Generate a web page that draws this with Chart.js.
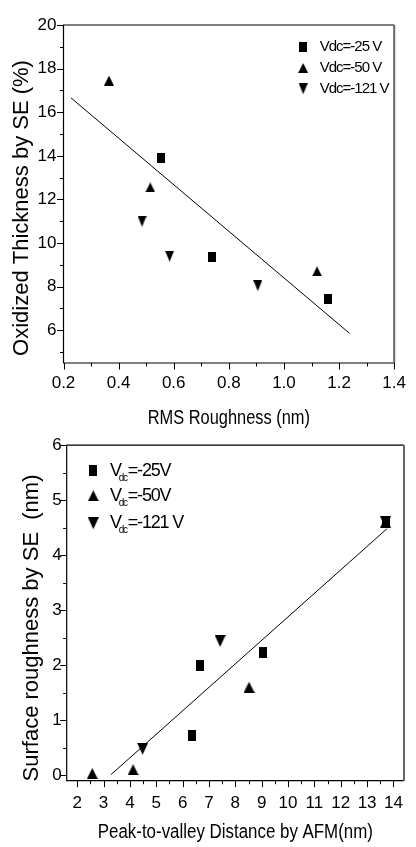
<!DOCTYPE html>
<html>
<head>
<meta charset="utf-8">
<script src="https://cdn.jsdelivr.net/npm/chart.js@4.4.1/dist/chart.umd.min.js"></script>
<style>
  body { margin: 0; background: #fff; }
  canvas { display: block; }
</style>
</head>
<body>
<canvas id="oxide" width="416" height="430"></canvas>
<canvas id="rough" width="416" height="417"></canvas>
<script>
// top panel: oxidized thickness vs RMS roughness
var rmsX25 = [0.555, 0.74, 1.16];
var oxY25 = [13.9, 9.35, 7.42];
var rmsX50 = [0.365, 0.515, 1.12];
var oxY50 = [17.45, 12.55, 8.7];
var rmsX121 = [0.485, 0.585, 0.905];
var oxY121 = [11.0, 9.4, 8.05];
var rmsFitX = [0.227, 1.238];
var oxFitY = [16.66, 5.86];
var rmsTicks = [0.2, 0.4, 0.6, 0.8, 1.0, 1.2, 1.4];
var rmsMinor = [0.3, 0.5, 0.7, 0.9, 1.1, 1.3];
var oxTicks = [6, 8, 10, 12, 14, 16, 18, 20];
var oxMinor = [5, 7, 9, 11, 13, 15, 17, 19];

// bottom panel: SE roughness vs AFM peak-to-valley
var pvX25 = [6.35, 6.65, 9.05, 13.7];
var srY25 = [0.72, 2.0, 2.23, 4.6];
var pvX50 = [2.57, 4.12, 8.52, 13.7];
var srY50 = [0.03, 0.1, 1.6, 4.6];
var pvX121 = [4.48, 7.42, 13.7];
var srY121 = [0.48, 2.44, 4.6];
var pvFitX = [3.28, 13.75];
var srFitY = [0.01, 4.48];
var pvTicks = [2, 3, 4, 5, 6, 7, 8, 9, 10, 11, 12, 13, 14];
var pvMinor = [2.5, 3.5, 4.5, 5.5, 6.5, 7.5, 8.5, 9.5, 10.5, 11.5, 12.5, 13.5];
var srTicks = [0, 1, 2, 3, 4, 5, 6];
var srMinor = [0.5, 1.5, 2.5, 3.5, 4.5, 5.5];

var SANS = '"Liberation Sans", Arial, sans-serif';

function pts(xs, ys) {
  return xs.map(function (x, i) { return { x: x, y: ys[i] }; });
}

// small filled marker shapes (squares in the original are a bit taller than wide)
function mark(kind, w, h) {
  var c = document.createElement('canvas');
  c.width = w; c.height = h;
  var g = c.getContext('2d');
  g.fillStyle = '#000';
  g.beginPath();
  if (kind === 'square') g.rect(0, 0, w, h);
  else if (kind === 'up') { g.moveTo(w / 2, 0); g.lineTo(w, h); g.lineTo(0, h); }
  else { g.moveTo(0, 0); g.lineTo(w, 0); g.lineTo(w / 2, h); }
  g.closePath();
  g.fill();
  return c;
}

// frame + outward major/minor ticks on left and bottom
function axisBox(xMajor, xMinor, yMajor, yMinor) {
  return {
    id: 'axisBox',
    afterDraw: function (chart) {
      var ctx = chart.ctx, a = chart.chartArea;
      var sx = chart.scales.x, sy = chart.scales.y;
      ctx.save();
      ctx.lineWidth = 1.2;
      ctx.strokeStyle = '#000';
      ctx.beginPath();
      ctx.moveTo(a.right, a.top); ctx.lineTo(a.left, a.top);
      ctx.lineTo(a.left, a.bottom); ctx.lineTo(a.right, a.bottom);
      ctx.stroke();
      ctx.strokeStyle = '#666';
      ctx.lineWidth = 2;
      ctx.beginPath();
      ctx.moveTo(a.right, a.top); ctx.lineTo(a.right, a.bottom);
      ctx.stroke();
      ctx.strokeStyle = '#000';
      ctx.lineWidth = 1;
      ctx.beginPath();
      xMajor.forEach(function (v) {
        var p = Math.round(sx.getPixelForValue(v)) + 0.5;
        ctx.moveTo(p, a.bottom); ctx.lineTo(p, a.bottom + 6.5);
      });
      xMinor.forEach(function (v) {
        var p = Math.round(sx.getPixelForValue(v)) + 0.5;
        ctx.moveTo(p, a.bottom); ctx.lineTo(p, a.bottom + 3.5);
      });
      yMajor.forEach(function (v) {
        var p = Math.round(sy.getPixelForValue(v)) + 0.5;
        ctx.moveTo(a.left, p); ctx.lineTo(a.left - 6.5, p);
      });
      yMinor.forEach(function (v) {
        var p = Math.round(sy.getPixelForValue(v)) + 0.5;
        ctx.moveTo(a.left, p); ctx.lineTo(a.left - 3.5, p);
      });
      ctx.stroke();
      ctx.restore();
    }
  };
}

// axis titles in the original use a narrow face; squeeze x titles, nudge y titles
function titleTweak(cfg) {
  return {
    id: 'titleTweak',
    afterUpdate: function (chart) {
      ['x', 'y'].forEach(function (k) {
        var s = chart.scales[k], t = cfg[k];
        if (!s || s._tweaked) return;
        var orig = s.drawTitle;
        s.drawTitle = function () {
          var ctx = this.ctx;
          var cx = (this.left + this.right) / 2;
          ctx.save();
          ctx.translate(cx, t.dy);
          ctx.scale(t.squeeze, 1);
          ctx.translate(-cx, 0);
          orig.apply(this, arguments);
          ctx.restore();
        };
        s._tweaked = true;
      });
    }
  };
}

// legend inside the plot, with optional subscript
function markLegend(items, o) {
  return {
    id: 'markLegend',
    afterDraw: function (chart) {
      var ctx = chart.ctx, a = chart.chartArea;
      ctx.save();
      ctx.fillStyle = '#000';
      ctx.textBaseline = 'middle';
      ctx.textAlign = 'left';
      ctx.letterSpacing = o.spacing + 'px';
      items.forEach(function (it, i) {
        var y = a.top + o.rows[i];
        var mx = o.side === 'right' ? a.right - o.markDx : a.left + o.markDx;
        var tx = o.side === 'right' ? a.right - o.textDx : a.left + o.textDx;
        ctx.drawImage(it.mark, mx - it.mark.width / 2, y - it.mark.height / 2);
        ctx.font = o.size + 'px ' + SANS;
        ctx.fillText(it.main, tx, y);
        if (it.sub) {
          var w = ctx.measureText(it.main).width * 0.8;
          ctx.font = o.subSize + 'px ' + SANS;
          ctx.fillText(it.sub, tx + w, y + o.subDy);
          var sw = ctx.measureText(it.sub).width;
          ctx.font = o.size + 'px ' + SANS;
          ctx.fillText(it.rest, tx + w + sw + 1, y);
        }
      });
      ctx.restore();
    }
  };
}

function panel(id, p) {
  return new Chart(document.getElementById(id), {
    type: 'scatter',
    data: {
      datasets: [
        { label: p.labels[0], data: pts(p.x[0], p.y[0]), pointStyle: p.marks[0], pointRadius: 5, order: 0 },
        { label: p.labels[1], data: pts(p.x[1], p.y[1]), pointStyle: p.marks[1], pointRadius: 5, order: 0 },
        { label: p.labels[2], data: pts(p.x[2], p.y[2]), pointStyle: p.marks[2], pointRadius: 5, order: 0 },
        { label: 'fit', data: pts(p.fitX, p.fitY), showLine: true, borderColor: '#000',
          borderWidth: 1, pointRadius: 0, order: 1 }
      ]
    },
    options: {
      responsive: false,
      animation: false,
      events: [],
      layout: { padding: p.pad },
      plugins: { legend: { display: false }, tooltip: { enabled: false } },
      scales: {
        x: {
          type: 'linear', min: p.xMin, max: p.xMax,
          grid: { display: false, drawTicks: false },
          border: { display: false },
          afterBuildTicks: function (s) { s.ticks = p.xTicks.map(function (v) { return { value: v }; }); },
          afterFit: function (s) { s.height = p.xHeight; },
          ticks: { font: { family: SANS, size: p.tickSize }, color: '#000', padding: p.xPad,
            maxRotation: 0, autoSkip: false, callback: p.xFmt },
          title: { display: true, text: p.xTitle, color: '#000', font: { family: SANS, size: 20 },
            padding: { top: 0, bottom: p.xTitlePad } }
        },
        y: {
          type: 'linear', min: p.yMin, max: p.yMax,
          grid: { display: false, drawTicks: false },
          border: { display: false },
          afterBuildTicks: function (s) { s.ticks = p.yTicks.map(function (v) { return { value: v }; }); },
          afterFit: function (s) { s.width = p.yWidth; },
          ticks: { font: { family: SANS, size: p.tickSize }, color: '#000', padding: p.yPad,
            autoSkip: false, callback: function (v) { return String(v); } },
          title: { display: true, text: p.yTitle, color: '#000', font: { family: SANS, size: 22 },
            padding: { top: p.yTitlePad, bottom: 0 } }
        }
      }
    },
    plugins: [titleTweak(p.titles), axisBox(p.xTicks, p.xMinor, p.yTicks, p.yMinor),
      markLegend(p.legend, p.legendPos)]
  });
}

var topSq = mark('square', 8, 10), topUp = mark('up', 10, 10), topDn = mark('down', 9, 11);
var botSq = mark('square', 8, 11), botUp = mark('up', 11, 11), botDn = mark('down', 11, 12);

panel('oxide', {
  labels: ['Vdc=-25 V', 'Vdc=-50 V', 'Vdc=-121 V'],
  marks: [topSq, topUp, topDn],
  x: [rmsX25, rmsX50, rmsX121], y: [oxY25, oxY50, oxY121],
  fitX: rmsFitX, fitY: oxFitY,
  xMin: 0.2, xMax: 1.4, xTicks: rmsTicks, xMinor: rmsMinor,
  xFmt: function (v) { return v.toFixed(1); },
  yMin: 4.5, yMax: 20, yTicks: oxTicks, yMinor: oxMinor,
  xTitle: 'RMS Roughness (nm)', yTitle: 'Oxidized Thickness by SE (%)',
  pad: { top: 25, right: 15, left: 0, bottom: 0 },
  tickSize: 17,
  xHeight: 67, yWidth: 63.5, xPad: 10, yPad: 7, xTitlePad: 0, yTitlePad: 9,
  titles: { x: { squeeze: 0.82, dy: 0 }, y: { squeeze: 1, dy: 14 } },
  legend: [
    { mark: topSq, main: 'Vdc=-25 V' },
    { mark: topUp, main: 'Vdc=-50 V' },
    { mark: topDn, main: 'Vdc=-121 V' }
  ],
  legendPos: { side: 'right', markDx: 91, textDx: 74.5, rows: [21.7, 43, 63.7], size: 15, spacing: -1 }
});

panel('rough', {
  labels: ['Vdc=-25V', 'Vdc=-50V', 'Vdc=-121 V'],
  marks: [botSq, botUp, botDn],
  x: [pvX25, pvX50, pvX121], y: [srY25, srY50, srY121],
  fitX: pvFitX, fitY: srFitY,
  xMin: 1.6, xMax: 14.4, xTicks: pvTicks, xMinor: pvMinor,
  xFmt: function (v) { return String(v); },
  yMin: -0.1, yMax: 6, yTicks: srTicks, yMinor: srMinor,
  xTitle: 'Peak-to-valley Distance by AFM(nm)', yTitle: 'Surface roughness by SE  (nm)',
  pad: { top: 12.7, right: 12, left: 0, bottom: 0 },
  tickSize: 17,
  xHeight: 66.3, yWidth: 66.7, xPad: 12, yPad: 5, xTitlePad: 3, yTitlePad: 18.5,
  titles: { x: { squeeze: 0.845, dy: 0 }, y: { squeeze: 1, dy: 15 } },
  legend: [
    { mark: botSq, main: 'V', sub: 'dc', rest: '=-25V' },
    { mark: botUp, main: 'V', sub: 'dc', rest: '=-50V' },
    { mark: botDn, main: 'V', sub: 'dc', rest: '=-121 V' }
  ],
  legendPos: { side: 'left', markDx: 26.6, textDx: 43.3, rows: [25.6, 50.6, 78], size: 18,
    subSize: 10, subDy: 7, spacing: -1.2 }
});
</script>
</body>
</html>
